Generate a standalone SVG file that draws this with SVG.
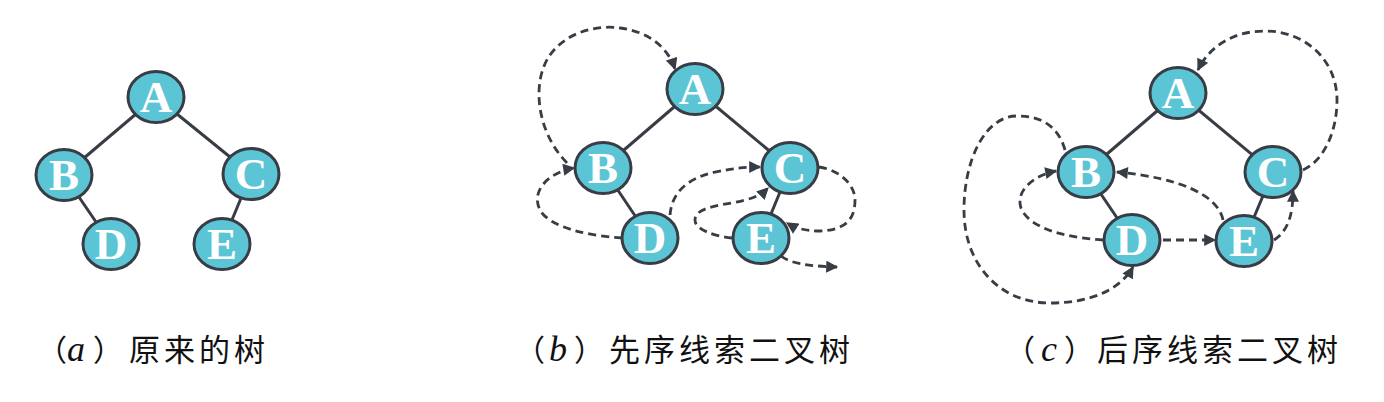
<svg xmlns="http://www.w3.org/2000/svg" width="1384" height="402" viewBox="0 0 1384 402">
<style>
.bg{fill:#ffffff}
.edge{stroke:#383c44;stroke-width:3;fill:none}
.node ellipse{fill:#5bc5d5;stroke:#383c44;stroke-width:3}
.node text{font-family:"Liberation Serif","Times New Roman",serif;font-weight:bold;font-size:45px;fill:#ffffff;text-anchor:middle}
.thread{stroke:#383c44;stroke-width:2.8;fill:none;stroke-dasharray:8 5;marker-end:url(#ah)}
.lbl{fill:#111111}
.par{font-family:"Noto Sans CJK SC","Noto Sans CJK JP",sans-serif;font-size:30px}
.it{font-family:"Liberation Serif","Times New Roman",serif;font-style:italic;font-size:36px}
.cjk{font-family:"Noto Sans CJK SC","Noto Sans CJK JP",sans-serif;font-size:31px;letter-spacing:4px}
</style>
<defs>
<marker id="ah" viewBox="0 0 10 10" refX="9" refY="5" markerWidth="13" markerHeight="12" markerUnits="userSpaceOnUse" orient="auto">
<path d="M0,0 L10,5 L0,10 z" fill="#383c44"/>
</marker>
</defs>
<rect class="bg" x="0" y="0" width="1384" height="402"/>

<g id="connectors">
<!-- tree a edges -->
<line class="edge" x1="156" y1="97" x2="64" y2="175"/>
<line class="edge" x1="156" y1="97" x2="251" y2="174"/>
<line class="edge" x1="64" y1="175" x2="111" y2="244"/>
<line class="edge" x1="251" y1="174" x2="222" y2="244"/>
<!-- tree b edges -->
<line class="edge" x1="695" y1="89" x2="603" y2="168"/>
<line class="edge" x1="695" y1="89" x2="790" y2="168"/>
<line class="edge" x1="603" y1="168" x2="650" y2="238"/>
<line class="edge" x1="790" y1="168" x2="761" y2="238"/>
<!-- tree c edges -->
<line class="edge" x1="1178" y1="93" x2="1086" y2="172"/>
<line class="edge" x1="1178" y1="93" x2="1273" y2="172"/>
<line class="edge" x1="1086" y1="172" x2="1132" y2="240"/>
<line class="edge" x1="1273" y1="172" x2="1244" y2="241"/>
<!-- tree b threads -->
<path class="thread" d="M567,163 C535,130 532,80 550,55 C568,30 600,25 620,28 C650,32 668,48 675,69"/>
<path class="thread" d="M622,238 C590,236 550,228 540,210 C530,190 550,172 574,168"/>
<path class="thread" d="M670,215 C672,190 690,178 715,172 C735,168 748,167 760,167"/>
<path class="thread" d="M732,238 C715,236 695,230 695,220 C695,205 730,205 745,200 C758,197 764,192 768,188"/>
<path class="thread" d="M819,167 C840,170 855,185 855,200 C855,220 845,230 820,231 C805,231 795,228 787,223"/>
<path class="thread" d="M781,256 C790,263 805,266 837,267"/>
<!-- tree c threads -->
<path class="thread" d="M1065,150 C1058,125 1040,116 1017,116 C985,116 964,160 964,210 C964,265 1000,303 1050,303 C1090,303 1120,290 1133,267"/>
<path class="thread" d="M1103,240 C1070,238 1030,230 1021,208 C1015,190 1035,175 1056,171"/>
<path class="thread" d="M1223,220 C1218,195 1180,178 1117,172"/>
<path class="thread" d="M1163,240 L1215,240"/>
<path class="thread" d="M1274,240 C1290,230 1293,210 1293,191"/>
<path class="thread" d="M1303,170 C1325,160 1337,130 1337,100 C1337,60 1305,31 1265,31 C1235,31 1210,45 1198,70"/>
</g>

<g id="a-A" class="node"><ellipse cx="156" cy="97" rx="28" ry="25.5"/><text x="156" y="112">A</text></g>
<g id="a-B" class="node"><ellipse cx="64" cy="175" rx="28" ry="25.5"/><text x="64" y="190">B</text></g>
<g id="a-C" class="node"><ellipse cx="251" cy="174" rx="28" ry="25.5"/><text x="251" y="189">C</text></g>
<g id="a-D" class="node"><ellipse cx="111" cy="244" rx="28" ry="25.5"/><text x="111" y="259">D</text></g>
<g id="a-E" class="node"><ellipse cx="222" cy="244" rx="28" ry="25.5"/><text x="222" y="259">E</text></g>

<g id="b-A" class="node"><ellipse cx="695" cy="89" rx="28" ry="25.5"/><text x="695" y="104">A</text></g>
<g id="b-B" class="node"><ellipse cx="603" cy="168" rx="28" ry="25.5"/><text x="603" y="183">B</text></g>
<g id="b-C" class="node"><ellipse cx="790" cy="168" rx="28" ry="25.5"/><text x="790" y="183">C</text></g>
<g id="b-D" class="node"><ellipse cx="650" cy="238" rx="28" ry="25.5"/><text x="650" y="253">D</text></g>
<g id="b-E" class="node"><ellipse cx="761" cy="238" rx="28" ry="25.5"/><text x="761" y="253">E</text></g>

<g id="c-A" class="node"><ellipse cx="1178" cy="93" rx="28" ry="25.5"/><text x="1178" y="108">A</text></g>
<g id="c-B" class="node"><ellipse cx="1086" cy="172" rx="28" ry="25.5"/><text x="1086" y="187">B</text></g>
<g id="c-C" class="node"><ellipse cx="1273" cy="172" rx="28" ry="25.5"/><text x="1273" y="187">C</text></g>
<g id="c-D" class="node"><ellipse cx="1132" cy="240" rx="28" ry="25.5"/><text x="1132" y="255">D</text></g>
<g id="c-E" class="node"><ellipse cx="1244" cy="241" rx="28" ry="25.5"/><text x="1244" y="256">E</text></g>

<g id="labels">
<text class="lbl" y="361"><tspan class="par" x="37">（</tspan><tspan class="it" x="67">a</tspan><tspan class="par" x="93">）</tspan><tspan class="cjk" x="129">原来的树</tspan></text>
<text class="lbl" y="361"><tspan class="par" x="515">（</tspan><tspan class="it" x="549">b</tspan><tspan class="par" x="574">）</tspan><tspan class="cjk" x="609">先序线索二叉树</tspan></text>
<text class="lbl" y="361"><tspan class="par" x="1005">（</tspan><tspan class="it" x="1041">c</tspan><tspan class="par" x="1064">）</tspan><tspan class="cjk" x="1097">后序线索二叉树</tspan></text>
</g>
</svg>
